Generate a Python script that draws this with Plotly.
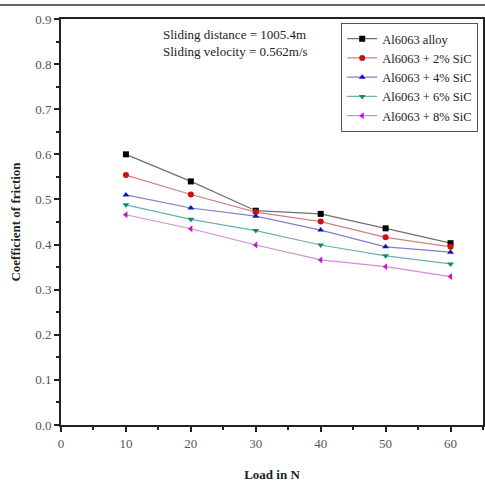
import plotly.graph_objects as go

loads = [10, 20, 30, 40, 50, 60]
series_names = ["Al6063 alloy", "Al6063 + 2% SiC", "Al6063 + 4% SiC",
                "Al6063 + 6% SiC", "Al6063 + 8% SiC"]
cof_alloy = [0.600, 0.540, 0.475, 0.468, 0.436, 0.403]
cof_2 = [0.554, 0.511, 0.472, 0.451, 0.416, 0.395]
cof_4 = [0.510, 0.481, 0.463, 0.432, 0.395, 0.383]
cof_6 = [0.488, 0.456, 0.431, 0.399, 0.375, 0.357]
cof_8 = [0.466, 0.435, 0.399, 0.366, 0.351, 0.329]
series_values = [cof_alloy, cof_2, cof_4, cof_6, cof_8]
x_ticks = [0, 10, 20, 30, 40, 50, 60]
y_ticks = [0.0, 0.1, 0.2, 0.3, 0.4, 0.5, 0.6, 0.7, 0.8, 0.9]

colors = ["#000000", "#d01010", "#1010c8", "#0a8a78", "#d010d0"]
line_colors = ["#707070", "#d08080", "#8080c8", "#70b0a8", "#d090d0"]
symbols = ["square", "circle", "triangle-up", "triangle-down", "triangle-left"]

font_family = "Liberation Serif, Times New Roman, serif"

fig = go.Figure()
for name, vals, c, lc, s in zip(series_names, series_values, colors, line_colors, symbols):
    fig.add_trace(go.Scatter(
        x=loads, y=vals, name=name, mode="lines+markers",
        line=dict(color=lc, width=1.2),
        marker=dict(symbol=s, size=6, color=c),
    ))

axis_common = dict(
    showline=True, linecolor="#222", linewidth=2, mirror=True,
    ticks="outside", ticklen=5, tickwidth=2, tickcolor="#222",
    showgrid=False, zeroline=False, automargin=False,
    tickfont=dict(family=font_family, size=13, color="#555"),
)

fig.update_layout(
    width=485, height=482,
    margin=dict(l=61, r=2, t=19, b=57),
    paper_bgcolor="white", plot_bgcolor="white",
    font=dict(family=font_family, size=12, color="#222"),
    showlegend=True,
    legend=dict(
        x=0.664, y=0.99, xanchor="left", yanchor="top",
        bordercolor="#555", borderwidth=1, bgcolor="white",
        font=dict(family=font_family, size=12.5, color="#222"),
        tracegroupgap=0, itemwidth=30,
    ),
    xaxis=dict(
        range=[0, 65], tickvals=x_ticks,
        minor=dict(dtick=5, tick0=0, ticks="outside", ticklen=3, tickwidth=2, tickcolor="#222"),
        title=dict(text="<b>Load in N</b>", font=dict(family=font_family, size=13, color="#222"), standoff=22),
        **axis_common,
    ),
    yaxis=dict(
        range=[0, 0.9], tickvals=y_ticks, tickformat=".1f",
        minor=dict(dtick=0.05, tick0=0, ticks="outside", ticklen=3, tickwidth=2, tickcolor="#222"),
        title=dict(text="<b>Coefficient of friction</b>", font=dict(family=font_family, size=13, color="#222"), standoff=12),
        **axis_common,
    ),
    annotations=[
        dict(x=0.236, y=0.985, xref="paper", yref="paper", xanchor="left", yanchor="top",
             align="left", showarrow=False,
             text="Sliding distance = 1005.4m<br>Sliding velocity = 0.562m/s",
             font=dict(family=font_family, size=13, color="#222")),
    ],
    shapes=[
        dict(type="line", xref="paper", yref="paper", x0=-0.2, x1=1.01,
             y0=1 + 14 / 406, y1=1 + 14 / 406, line=dict(color="#333", width=1.5)),
    ],
)

fig.write_html("out.html", config={"displayModeBar": False},
               post_script="document.body.style.margin='0';")
